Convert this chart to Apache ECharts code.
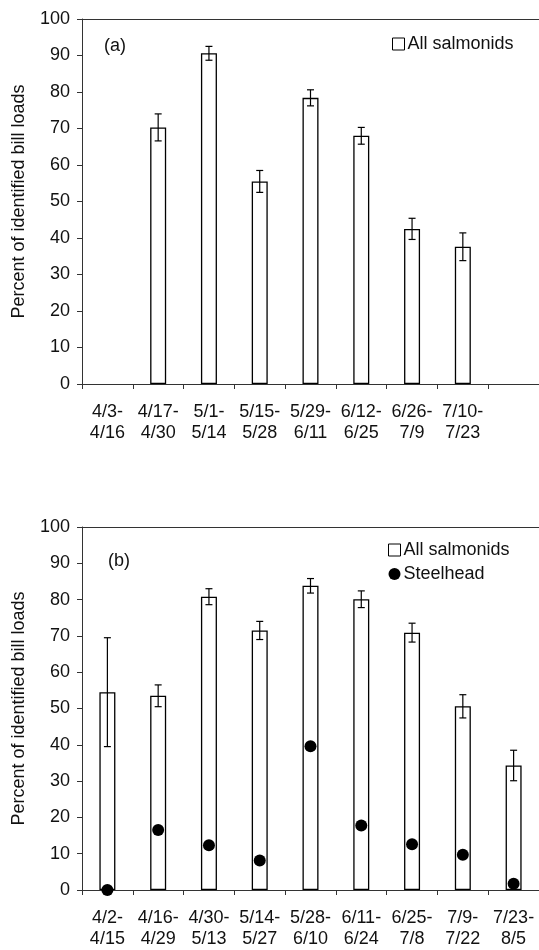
<!DOCTYPE html>
<html>
<head>
<meta charset="utf-8">
<script src="https://cdn.jsdelivr.net/npm/echarts@6/dist/echarts.min.js"></script>
<style>html,body{margin:0;padding:0;background:#fff;}#c{width:539px;height:950px;}</style>
</head>
<body>
<div id="c"></div>
<script>
// Panel (a)
var catsA = ["4/3-\n4/16", "4/17-\n4/30", "5/1-\n5/14", "5/15-\n5/28", "5/29-\n6/11", "6/12-\n6/25", "6/26-\n7/9", "7/10-\n7/23", ""];
var salmonA = [null, 70.3, 90.6, 55.5, 78.4, 68.0, 42.5, 37.6, null];
var errA = [null, 3.7, 1.9, 3.0, 2.2, 2.3, 2.9, 3.8, null];
// Panel (b)
var catsB = ["4/2-\n4/15", "4/16-\n4/29", "4/30-\n5/13", "5/14-\n5/27", "5/28-\n6/10", "6/11-\n6/24", "6/25-\n7/8", "7/9-\n7/22", "7/23-\n8/5"];
var salmonB = [54.5, 53.5, 80.8, 71.5, 83.8, 80.1, 70.9, 50.6, 34.3];
var errB = [15.0, 3.0, 2.2, 2.5, 2.0, 2.3, 2.6, 3.2, 4.2];
var steelB = [0, 16.5, 12.3, 8.1, 39.6, 17.8, 12.6, 9.7, 1.7];
var yTicks = [0, 10, 20, 30, 40, 50, 60, 70, 80, 90, 100];

var FONT = 'Liberation Sans, Arial, sans-serif';
var TXT = '#111';
var AX = '#333';

function errData(vals, errs) {
  var out = [];
  for (var i = 0; i < vals.length; i++) {
    if (vals[i] == null || errs[i] == null) continue;
    out.push([i, vals[i] - errs[i], vals[i] + errs[i]]);
  }
  return out;
}
function renderErr(params, api) {
  var x = api.value(0);
  var lo = api.coord([x, api.value(1)]);
  var hi = api.coord([x, api.value(2)]);
  var cap = 3.5;
  var st = {stroke: '#000', lineWidth: 1.2};
  return {
    type: 'group',
    children: [
      {type: 'line', shape: {x1: lo[0], y1: lo[1], x2: hi[0], y2: hi[1]}, style: st},
      {type: 'line', shape: {x1: lo[0] - cap, y1: lo[1], x2: lo[0] + cap, y2: lo[1]}, style: st},
      {type: 'line', shape: {x1: hi[0] - cap, y1: hi[1], x2: hi[0] + cap, y2: hi[1]}, style: st}
    ]
  };
}
function xAxisMain(idx, cats) {
  return {
    type: 'category', gridIndex: idx, data: cats, position: 'bottom',
    axisLine: {lineStyle: {color: AX, width: 1}},
    axisTick: {show: true, length: 5, lineStyle: {color: AX}},
    axisLabel: {color: TXT, fontFamily: FONT, fontSize: 18, lineHeight: 21, margin: 18, interval: 0}
  };
}
function xAxisTop(idx, cats) {
  return {
    type: 'category', gridIndex: idx, data: cats, position: 'top',
    axisLine: {show: true, lineStyle: {color: AX, width: 1}},
    axisTick: {show: false}, axisLabel: {show: false}
  };
}
function yAxisMain(idx) {
  return {
    type: 'value', gridIndex: idx, min: yTicks[0], max: yTicks[yTicks.length - 1], interval: 10,
    name: 'Percent of identified bill loads', nameLocation: 'middle', nameGap: 54,
    nameTextStyle: {color: TXT, fontFamily: FONT, fontSize: 18},
    axisLine: {show: true, lineStyle: {color: AX, width: 1}},
    axisTick: {show: true, length: 5, lineStyle: {color: AX}},
    axisLabel: {color: TXT, fontFamily: FONT, fontSize: 18, margin: 12},
    splitLine: {show: false}
  };
}
var barStyle = {color: '#fff', borderColor: '#000', borderWidth: 1.3};

var option = {
  backgroundColor: '#fff',
  animation: false,
  title: [
    {text: '(a)', left: 104, top: 37, textStyle: {color: TXT, fontFamily: FONT, fontSize: 18, fontWeight: 'normal'}, padding: 0},
    {text: '(b)', left: 108, top: 552, textStyle: {color: TXT, fontFamily: FONT, fontSize: 18, fontWeight: 'normal'}, padding: 0}
  ],
  legend: [
    {data: [{name: 'All salmonids', icon: 'rect', itemStyle: {color: '#fff', borderColor: '#000', borderWidth: 1}}], left: 392, top: 35, orient: 'vertical', itemWidth: 12, itemHeight: 12, itemGap: 8, padding: 0,
     textStyle: {color: TXT, fontFamily: FONT, fontSize: 18, padding: [0, 0, 0, -2]}, selectedMode: false},
    {data: [{name: 'All salmonids', icon: 'rect', itemStyle: {color: '#fff', borderColor: '#000', borderWidth: 1}}, {name: 'Steelhead', icon: 'circle', itemStyle: {color: '#000', opacity: 1}}], left: 388, top: 541, orient: 'vertical', itemWidth: 12, itemHeight: 12, itemGap: 6, padding: 0,
     textStyle: {color: TXT, fontFamily: FONT, fontSize: 18, padding: [0, 0, 0, -2]}, selectedMode: false}
  ],
  grid: [
    {left: 82, right: 0, top: 19, height: 365},
    {left: 82, right: 0, top: 527, height: 366}
  ],
  xAxis: [xAxisMain(0, catsA), xAxisTop(0, catsA), xAxisMain(1, catsB), xAxisTop(1, catsB)],
  yAxis: [yAxisMain(0), yAxisMain(1)],
  series: [
    {name: 'All salmonids', type: 'bar', xAxisIndex: 0, yAxisIndex: 0, data: salmonA, barWidth: 16, itemStyle: barStyle},
    {name: 'errA', type: 'custom', xAxisIndex: 0, yAxisIndex: 0, data: errData(salmonA, errA), renderItem: renderErr, z: 5},
    {name: 'All salmonids', type: 'bar', xAxisIndex: 2, yAxisIndex: 1, data: salmonB, barWidth: 16, itemStyle: barStyle},
    {name: 'errB', type: 'custom', xAxisIndex: 2, yAxisIndex: 1, data: errData(salmonB, errB), renderItem: renderErr, z: 5},
    {name: 'Steelhead', type: 'scatter', xAxisIndex: 2, yAxisIndex: 1, data: steelB, symbol: 'circle', symbolSize: 12, itemStyle: {color: '#000', opacity: 1}, z: 6}
  ]
};
var chart = echarts.init(document.getElementById('c'), null, {renderer: 'canvas'});
chart.setOption(option);
</script>
</body>
</html>
